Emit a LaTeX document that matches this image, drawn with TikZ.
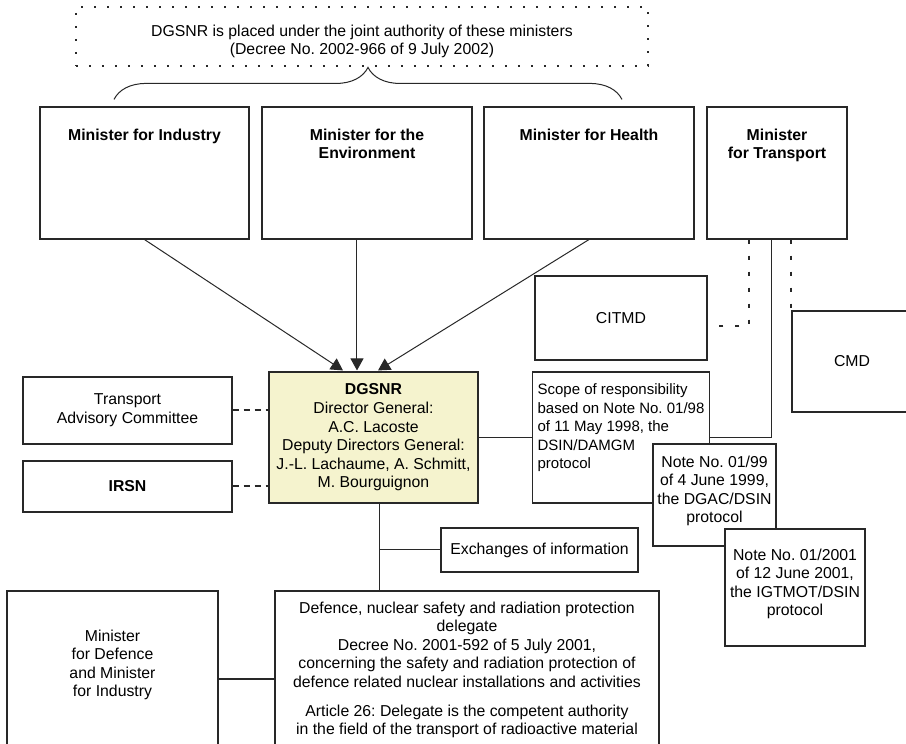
\documentclass[tikz,border=0pt]{standalone}
\usepackage{fontspec}
\setmainfont{Liberation Sans}
\usetikzlibrary{positioning,arrows.meta,decorations.pathreplacing}
\definecolor{dgfill}{RGB}{245,243,206}
\definecolor{ink}{RGB}{40,40,40}
\newcommand{\bodyfont}{\fontsize{15.8}{18.6}\selectfont}
\frenchspacing

\begin{document}
\begin{tikzpicture}[x=1pt,y=1pt,on grid,
font=\bodyfont,
every label/.style={inner sep=0pt, align=center},
box/.style={draw=ink, line width=1.1pt, rectangle, inner sep=4pt, align=center},
minister/.style={box, minimum width=209pt, minimum height=132pt},
dotline/.style={ink, line width=2pt, dash pattern=on 4pt off 12pt},
dashline/.style={ink, line width=2pt, dash pattern=on 6pt off 5pt},
link/.style={ink, line width=1pt},
arr/.style={link, -{Triangle[length=12pt,width=13pt]}}]
\useasboundingbox (-373.5,-306.5) rectangle (532.5,437.5);
\clip (-373.5,-306.5) rectangle (532.5,437.5);

% centre
\node[box, fill=dgfill, minimum width=209pt, minimum height=131pt] (dgsnr) at (0,0)
  {\textbf{DGSNR}\\Director General:\\A.C. Lacoste\\Deputy Directors General:\\J.-L. Lachaume, A. Schmitt,\\M. Bourguignon};

% ministers
\node[minister, label={[anchor=north, yshift=-22pt, font=\bodyfont\bfseries]north:Minister for Industry}]
  (ind) [above left=264.5pt and 229pt of dgsnr] {};
\node[minister, minimum width=210pt, label={[anchor=north, yshift=-22pt, font=\bodyfont\bfseries]north:Minister for the\\Environment}]
  (env) [right=222.5pt of ind] {};
\node[minister, minimum width=210pt, label={[anchor=north, yshift=-22pt, font=\bodyfont\bfseries]north:Minister for Health}]
  (hea) [right=222pt of env] {};
\node[minister, minimum width=140pt, label={[anchor=north, yshift=-22pt, font=\bodyfont\bfseries]north:Minister\\for Transport}]
  (tra) [right=188pt of hea] {};
\node[draw=ink, line width=1.6pt, dash pattern=on 1.6pt off 11.4pt, minimum width=572pt, minimum height=59pt,
  label={[yshift=-5pt]center:DGSNR is placed under the joint authority of these ministers\\(Decree No. 2002-966 of 9 July 2002)}]
  (note) [above left=136.5pt and 5pt of env] {};

% brace
\coordinate[above left=7pt and 30.5pt of ind.north] (bl);
\coordinate[above right=7pt and 33pt of hea.north] (br);
\draw[link, decorate, decoration={brace, amplitude=32pt}] (bl) -- (br);

% side boxes
\node[box, minimum width=209pt, minimum height=67pt] (tac) [above left=27pt and 246pt of dgsnr] {Transport\\Advisory Committee};
\node[box, minimum width=209pt, minimum height=51pt, font=\bodyfont\bfseries] (irsn) [below left=49pt and 246pt of dgsnr] {IRSN};
\node[box, minimum width=172pt, minimum height=84pt] (citmd) [above right=119.5pt and 247.5pt of dgsnr] {CITMD};
\node[box, minimum width=150pt, minimum height=101pt, label={[xshift=-15pt]center:CMD}]
  (cmd) [above right=76pt and 493.5pt of dgsnr] {};
\node[box, minimum width=172pt, minimum height=131pt, align=left, inner xsep=5pt, font=\fontsize{15}{18.5}\selectfont]
  (scope) [right=247.5pt of dgsnr] {Scope of responsibility\\based on Note No. 01/98\\of 11 May 1998, the\\DSIN/DAMGM\\protocol\\[4pt]};
\node[box, fill=white, minimum width=123pt, minimum height=102pt,
  label={[anchor=north, yshift=-12pt]north:Note No. 01/99\\of 4 June 1999,\\the DGAC/DSIN\\protocol}]
  (n99) [below right=57.5pt and 341pt of dgsnr] {};
\node[box, fill=white, minimum width=140pt, minimum height=117pt,
  label={[anchor=north, yshift=-20pt]north:Note No. 01/2001\\of 12 June 2001,\\the IGTMOT/DSIN\\protocol}]
  (n01) [below right=150pt and 421.5pt of dgsnr] {};
\node[box, minimum width=197pt, minimum height=44pt] (exch) [below right=112.5pt and 166pt of dgsnr] {Exchanges of information};
\node[box, minimum width=384pt, minimum height=176pt,
  label={[anchor=north, yshift=-11pt]north:Defence, nuclear safety and radiation protection\\delegate\\Decree No. 2001-592 of 5 July 2001,\\concerning the safety and radiation protection of\\defence related nuclear installations and activities\\[10pt]Article 26: Delegate is the competent authority\\in the field of the transport of radioactive material}]
  (def) [below right=241.5pt and 93.5pt of dgsnr] {};
\node[box, minimum width=211pt, minimum height=176pt,
  label={[anchor=north, yshift=-39pt]north:Minister\\for Defence\\and Minister\\for Industry}]
  (mdef) [below left=241.5pt and 261pt of dgsnr] {};

% arrows into DGSNR
\coordinate[above left=1pt and 30.5pt of dgsnr.north] (tipA);
\coordinate[above left=1pt and 16.5pt of dgsnr.north] (tipB);
\coordinate[above right=1pt and 4.5pt of dgsnr.north] (tipC);
\draw[arr] (ind.south) -- (tipA);
\draw[arr] (env.south -| tipB) -- (tipB);
\draw[arr] (hea.south) -- (tipC);

% other links
\draw[dashline] (tac.east) -- (tac.east -| dgsnr.west);
\draw[dashline] (irsn.east) -- (irsn.east -| dgsnr.west);
\draw[link] (dgsnr.east) -- (scope.west);
\draw[link] ([xshift=-6pt]tra.south) |- (scope.east);
\draw[dotline] ([xshift=-28pt]tra.south) |- ([yshift=-8pt]citmd.east);
\draw[dotline] (tra.south -| cmd.north west) -- (cmd.north west);
\coordinate[right=6.5pt of dgsnr.south] (trunk);
\draw[link] (trunk) -- (trunk |- def.north);
\draw[link] (exch.west) -- (exch.west -| trunk);
\draw[link] (mdef.east) -- (def.west);
\end{tikzpicture}
\end{document}
